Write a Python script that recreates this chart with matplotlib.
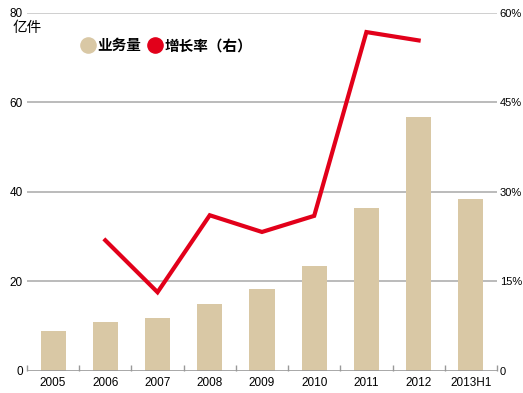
import matplotlib
matplotlib.use('Agg')
from matplotlib import pyplot as plt
import numpy as np

plt.rcParams['font.family'] = ['Noto Sans CJK SC', 'DejaVu Sans']

# data
categories = ['2005', '2006', '2007', '2008', '2009', '2010', '2011', '2012', '2013H1']
volume = [8.9, 10.9, 11.8, 15.0, 18.3, 23.5, 36.4, 56.8, 38.4]  # 亿件
growth_x = ['2006', '2007', '2008', '2009', '2010', '2011', '2012']
growth = [21.9, 13.2, 26.1, 23.3, 26.0, 56.8, 55.4]  # %

bar_color = '#D9C8A5'
line_color = '#E2001A'
grid_color = '#B5B5B5'
num_font = ['Liberation Sans', 'DejaVu Sans']

fig = plt.figure(figsize=(5.23, 3.93), dpi=100)
ax = fig.add_axes([0.0516, 0.056, 0.8986, 0.911])
x = np.arange(len(categories))

ax.bar(x, volume, width=0.48, color=bar_color, zorder=2)
ax.set_xlim(-0.5, len(categories) - 0.5)
ax.set_ylim(0, 80)
for v in [20, 40, 60]:
    ax.axhline(v, color=grid_color, lw=1.3, zorder=1)
ax.axhline(80, color='#CCCCCC', lw=1.3, zorder=1)

for s in ax.spines.values():
    s.set_visible(False)
ax.axhline(0, color='#999999', lw=1.2, zorder=3)

ax.set_xticks(x)
ax.set_xticklabels(categories, fontsize=8.5, family=num_font)
ax.tick_params(axis='x', length=0, pad=4)
ax.set_xticks(np.arange(-0.5, len(categories), 1), minor=True)
ax.tick_params(axis='x', which='minor', length=4, direction='in', color='#999999', width=1)

ax.set_yticks([0, 20, 40, 60, 80])
ax.set_yticklabels(['0', '20', '40', '60', '80'], fontsize=8.5, family=num_font)
ax.tick_params(axis='y', length=0, pad=3)

ax2 = ax.twinx()
ax2.set_ylim(0, 60)
for s in ax2.spines.values():
    s.set_visible(False)
ax2.set_yticks([0, 15, 30, 45, 60])
ax2.set_yticklabels(['0', '15%', '30%', '45%', '60%'], fontsize=8, family=num_font)
ax2.tick_params(axis='y', length=0, pad=2)
gx = [categories.index(c) for c in growth_x]
ax2.plot(gx, growth, color=line_color, lw=3, solid_joinstyle='miter', zorder=4)

fig.text(0.024, 0.928, '亿件', fontsize=10.5, ha='left', va='center')

# legend
ax.scatter([0.67], [72.8], s=120, color=bar_color, clip_on=False, zorder=5)
ax.text(0.84, 72.8, '业务量', fontsize=10.5, va='center', weight='bold')
ax.scatter([1.95], [72.8], s=120, color=line_color, clip_on=False, zorder=5)
ax.text(2.13, 72.8, '增长率（右）', fontsize=10.5, va='center', weight='bold')

fig.savefig('out.png', dpi=100)
